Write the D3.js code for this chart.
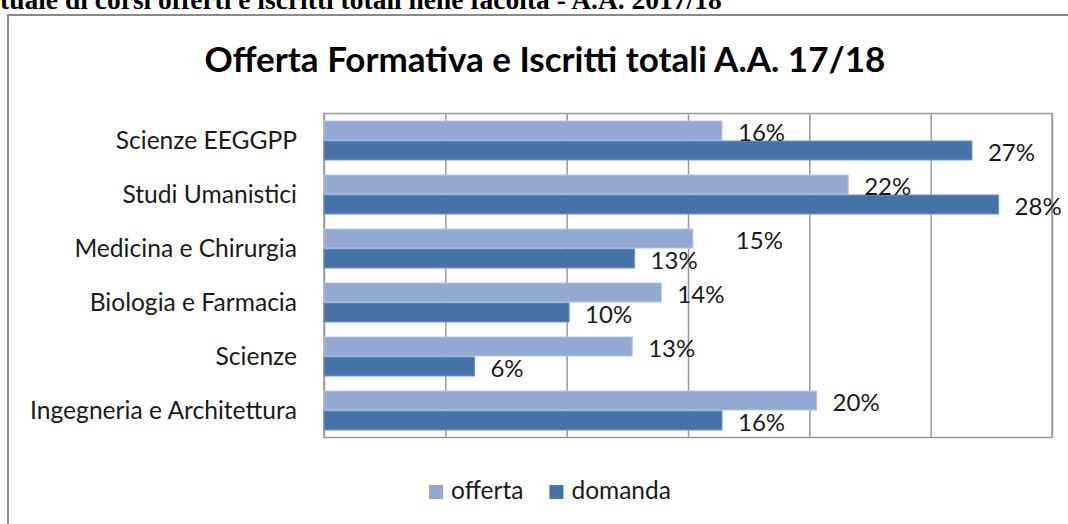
<!DOCTYPE html>
<html>
<head>
<meta charset="utf-8">
<script src="https://cdn.jsdelivr.net/npm/d3@7"></script>
<style>
  html, body { margin: 0; padding: 0; background: #fff; }
  svg { display: block; }
  .lbl { font-family: Lato, "Noto Sans", sans-serif; fill: #1a1a1a; }
</style>
</head>
<body>
<svg id="chart" width="1068" height="524"></svg>
<script>
// data
const categories = ["Scienze EEGGPP", "Studi Umanistici", "Medicina e Chirurgia",
                    "Biologia e Farmacia", "Scienze", "Ingegneria e Architettura"];
const offerta = [0.164, 0.216, 0.152, 0.139, 0.127, 0.203];
const domanda = [0.267, 0.278, 0.128, 0.101, 0.062, 0.164];
const seriesNames = ["offerta", "domanda"];
const pageCaption = "tuale di corsi offerti e iscritti totali nelle facoltà - A.A. 2017/18";
const chartTitle = "Offerta Formativa e Iscritti totali A.A. 17/18";
// one label was dragged by hand in the original (Medicina, offerta)
const offertaLabelShift = [0, 0, 27, 0, 0, 0];

const colors = { offerta: "#94a9d1", domanda: "#4573a8" };
const strokes = { offerta: "#b4c4e2", domanda: "#6d93c6" };

const svg = d3.select("#chart"),
      width = +svg.attr("width"),
      height = +svg.attr("height");

const plot = { left: 324, right: 1052, top: 113.5, bottom: 437.5 };

// caption of the page, cut off at the top
svg.append("text")
    .attr("x", 0)
    .attr("y", 9)
    .style("font-family", "'Liberation Serif', 'Times New Roman', serif")
    .style("font-weight", "bold")
    .style("font-size", "27.5px")
    .text(pageCaption);

// chart frame (only left and top edges are visible)
svg.append("path")
    .attr("d", `M8,${height} V15 H${width}`)
    .attr("fill", "none")
    .attr("stroke", "#8a8a8a")
    .attr("stroke-width", 2);

svg.append("text")
    .attr("class", "lbl")
    .attr("x", 545)
    .attr("y", 72)
    .attr("text-anchor", "middle")
    .style("font-weight", "bold")
    .style("font-size", "35px")
    .style("fill", "#000")
    .text(chartTitle);

const x = d3.scaleLinear()
    .domain([0, 0.30])
    .range([plot.left, plot.right]);

const y = d3.scaleBand()
    .domain(categories)
    .range([plot.top, plot.bottom])
    .paddingInner(0.26)
    .paddingOuter(0.13);

const ySub = d3.scaleBand()
    .domain(seriesNames)
    .range([0, y.bandwidth()]);

// gridlines
svg.append("g")
    .attr("transform", `translate(0,${plot.bottom})`)
    .call(d3.axisBottom(x).ticks(6).tickSize(-(plot.bottom - plot.top)).tickFormat(""))
    .call(g => g.select(".domain").remove())
    .call(g => g.selectAll(".tick line")
        .attr("stroke", "#9a9a9a")
        .attr("stroke-width", 1.5));

// plot border
svg.append("rect")
    .attr("x", plot.left)
    .attr("y", plot.top)
    .attr("width", plot.right - plot.left)
    .attr("height", plot.bottom - plot.top)
    .attr("fill", "none")
    .attr("stroke", "#9a9a9a")
    .attr("stroke-width", 1.5);

const rows = categories.map((c, i) => ({
    category: c,
    values: [
        { key: "offerta", value: offerta[i], shift: offertaLabelShift[i] },
        { key: "domanda", value: domanda[i], shift: 0 }
    ]
}));

const group = svg.append("g")
    .selectAll("g")
    .data(rows)
    .join("g")
    .attr("transform", d => `translate(0,${y(d.category)})`);

group.selectAll("rect")
    .data(d => d.values)
    .join("rect")
    .attr("x", x(0))
    .attr("y", d => ySub(d.key) + 0.5)
    .attr("width", d => x(d.value) - x(0))
    .attr("height", ySub.bandwidth() - 1)
    .attr("fill", d => colors[d.key])
    .attr("stroke", d => strokes[d.key])
    .attr("stroke-width", 1);

group.selectAll("text")
    .data(d => d.values)
    .join("text")
    .attr("class", "lbl")
    .attr("x", d => x(d.value) + 16 + d.shift)
    .attr("y", d => ySub(d.key) + ySub.bandwidth() / 2)
    .attr("dy", "0.45em")
    .style("font-size", "24px")
    .text(d => d3.format(".0%")(d.value));

// category labels
svg.append("g")
    .selectAll("text")
    .data(categories)
    .join("text")
    .attr("class", "lbl")
    .attr("x", 297)
    .attr("y", d => y(d) + y.bandwidth() / 2)
    .attr("dy", "0.36em")
    .attr("text-anchor", "end")
    .style("font-size", "24.6px")
    .text(d => d);

// legend
const legend = svg.append("g");
let lx = 0;
seriesNames.forEach(name => {
    const item = legend.append("g").attr("transform", `translate(${lx},0)`);
    item.append("rect")
        .attr("x", 0)
        .attr("y", -14)
        .attr("width", 14)
        .attr("height", 14)
        .attr("fill", colors[name]);
    const t = item.append("text")
        .attr("class", "lbl")
        .attr("x", 22)
        .attr("y", 0)
        .style("font-size", "24.5px")
        .text(name);
    lx += 22 + t.node().getComputedTextLength() + 26;
});
const legendWidth = lx - 26;
legend.attr("transform", `translate(${550 - legendWidth / 2},499)`);
</script>
</body>
</html>
